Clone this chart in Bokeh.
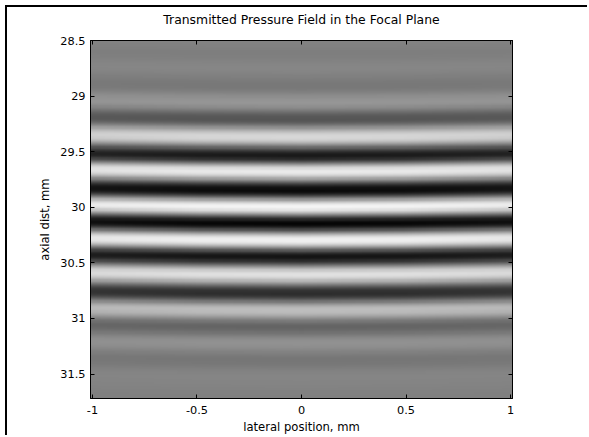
import numpy as np
from bokeh.plotting import figure
from bokeh.models import (Range1d, LinearAxis, FixedTicker, LinearColorMapper,
                          CustomLabelingPolicy)
from bokeh.palettes import Greys256
from bokeh.embed import file_html
from bokeh.resources import INLINE

title_text = "Transmitted Pressure Field in the Focal Plane"
x_label = "lateral position, mm"
y_label = "axial dist, mm"
x_ticks = [-1, -0.5, 0, 0.5, 1]
x_tick_labels = ["-1", "-0.5", "0", "0.5", "1"]
y_ticks = [28.5, 29, 29.5, 30, 30.5, 31, 31.5]
y_tick_labels = ["28.5", "29", "29.5", "30", "30.5", "31", "31.5"]

# axial profile read along the left edge: band centres (mm) and gray level (0 black .. 255 white)
band_z = [28.50, 28.59, 28.73, 28.89, 29.04, 29.19, 29.35, 29.52, 29.66, 29.83,
          29.98, 30.13, 30.28, 30.43, 30.59, 30.76, 30.91, 31.06, 31.21, 31.36,
          31.51, 31.72]
band_gray = [130, 126, 134, 120, 150, 85, 215, 25, 235, 10,
             245, 5, 240, 20, 225, 45, 190, 100, 145, 118,
             133, 128]

# lateral bending of the wavefronts (mm added to band_z) and contrast across the width
lat_x = [-1.0, -0.5, 0.0, 0.5, 1.0]
lat_shift = [0.0, 0.012, 0.017, 0.012, 0.0]
lat_contrast = [0.92, 0.98, 1.0, 0.98, 0.92]

x_lo, x_hi = -1.0095, 1.0095
z_top, z_bot = 28.5, 31.72
nx, nz = 121, 323

bz = np.array(band_z)
bg = np.array(band_gray, dtype=float)


def profile(z):
    idx = np.clip(np.searchsorted(bz, z, side="right") - 1, 0, len(bz) - 2)
    t = np.clip((z - bz[idx]) / (bz[idx + 1] - bz[idx]), 0, 1)
    s = (1 - np.cos(np.pi * t)) / 2
    return bg[idx] + (bg[idx + 1] - bg[idx]) * s


xs = np.linspace(x_lo, x_hi, nx)
zs = np.linspace(z_top, z_bot, nz)
img = np.zeros((nz, nx))
for j, xv in enumerate(xs):
    sh = np.interp(xv, lat_x, lat_shift)
    c = np.interp(xv, lat_x, lat_contrast)
    col = profile(zs - sh)
    img[:, j] = 128 + (col - 128) * c

FONT = "DejaVu Sans"
TICK_SIZE = "11.3px"
LABEL_SIZE = "11.6px"

p = figure(width=582, height=430,
           x_range=Range1d(x_lo, x_hi), y_range=Range1d(z_bot, z_top),
           output_backend="svg", toolbar_location=None,
           min_border_left=83, min_border_right=77,
           min_border_top=33, min_border_bottom=39,
           margin=(5, 0, 0, 5))
p.styles = {"border-left": "2px solid black", "border-top": "2px solid black"}

mapper = LinearColorMapper(palette=Greys256, low=0, high=255)
p.image(image=[img], x=x_lo, y=z_top, dw=x_hi - x_lo, dh=z_bot - z_top,
        color_mapper=mapper)

p.grid.visible = False
p.outline_line_color = "black"
p.outline_line_width = 1
p.background_fill_color = "white"
p.border_fill_color = "white"

p.title.text = title_text
p.title.align = "center"
p.title.vertical_align = "middle"
p.title.text_font = FONT
p.title.text_font_size = "12.4px"
p.title.text_font_style = "normal"
p.title.text_color = "black"
p.title.standoff = 4

hide_labels = CustomLabelingPolicy(code="for (const i of indices) { indices.unset(i) }\nreturn indices")


def style_axis(ax, ticks, labels, show_labels):
    ax.ticker = FixedTicker(ticks=ticks)
    ax.major_tick_in = 4
    ax.major_tick_out = 0
    ax.minor_tick_in = 0
    ax.minor_tick_out = 0
    ax.axis_line_color = "black"
    ax.major_tick_line_color = "black"
    ax.major_label_text_font = FONT
    ax.major_label_text_color = "black"
    ax.major_label_text_font_size = TICK_SIZE
    ax.axis_label_text_font = FONT
    ax.axis_label_text_font_style = "normal"
    ax.axis_label_text_color = "black"
    ax.axis_label_text_font_size = LABEL_SIZE
    ax.major_label_overrides = {t: l for t, l in zip(ticks, labels)}
    if not show_labels:
        ax.major_label_policy = hide_labels
        ax.major_label_standoff = 0


xa = p.xaxis[0]
style_axis(xa, x_ticks, x_tick_labels, True)
xa.axis_label = x_label
xa.major_label_standoff = 7
xa.axis_label_standoff = 3

ya = p.yaxis[0]
style_axis(ya, y_ticks, y_tick_labels, True)
ya.axis_label = y_label
ya.major_label_standoff = 5
ya.axis_label_standoff = 5
ya.major_label_orientation = "horizontal"

top = LinearAxis()
style_axis(top, x_ticks, x_tick_labels, False)
p.add_layout(top, "above")
right = LinearAxis()
style_axis(right, y_ticks, y_tick_labels, False)
p.add_layout(right, "right")

open("out.html", "w").write(file_html(p, INLINE))
